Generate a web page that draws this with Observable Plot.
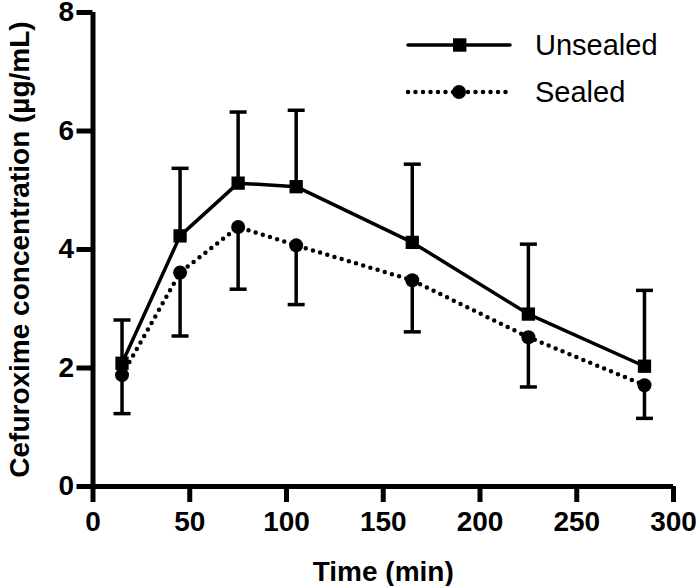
<!DOCTYPE html>
<html>
<head>
<meta charset="utf-8">
<script src="https://cdn.jsdelivr.net/npm/d3@7"></script>
<script src="https://cdn.jsdelivr.net/npm/@observablehq/plot@0.6"></script>
<style>
  html, body { margin: 0; padding: 0; background: #fff; }
  #wrap { position: relative; width: 700px; height: 586px; font-family: "Liberation Sans", Arial, sans-serif; }
  #wrap svg { overflow: visible; }
  #legend { position: absolute; left: 0; top: 0; pointer-events: none; }
  #wrap g[aria-label="x-axis tick"] path, #wrap g[aria-label="y-axis tick"] path,
  #wrap g[aria-label="x-axis tick"] line, #wrap g[aria-label="y-axis tick"] line { stroke-width: 5px !important; }
  #wrap g[aria-label="x-axis tick label"] text, #wrap g[aria-label="y-axis tick label"] text { font-size: 28px !important; font-weight: bold !important; }
  #wrap g[aria-label="x-axis label"] text, #wrap g[aria-label="y-axis label"] text { font-size: 28px !important; font-weight: bold !important; }
</style>
</head>
<body>
<div id="wrap"></div>
<script>
// ---- data ----
const times = [15, 45, 75, 105, 165, 225, 285];
const unsealedMean  = [2.08, 4.23, 5.12, 5.06, 4.12, 2.91, 2.03];
const unsealedUpper = [2.81, 5.37, 6.32, 6.35, 5.44, 4.09, 3.31];
const sealedMean    = [1.88, 3.61, 4.38, 4.07, 3.48, 2.52, 1.71];
const sealedLower   = [1.23, 2.54, 3.33, 3.07, 2.61, 1.68, 1.15];
const xTicks = [0, 50, 100, 150, 200, 250, 300];
const yTicks = [0, 2, 4, 6, 8];
const seriesNames = ["Unsealed", "Sealed"];
const xLabel = "Time (min)";
const yLabel = "Cefuroxime concentration (µg/mL)";

const unsealed = times.map((t, i) => ({t, mean: unsealedMean[i], err: unsealedUpper[i]}));
const sealed = times.map((t, i) => ({t, mean: sealedMean[i], err: sealedLower[i]}));

const capSymbol = { draw(ctx) { ctx.moveTo(-8.5, 0); ctx.lineTo(8.5, 0); } };
const font = "Liberation Sans, Arial, sans-serif";

const chart = Plot.plot({
  width: 700,
  height: 586,
  marginLeft: 92.5,
  marginRight: 27,
  marginTop: 12,
  marginBottom: 100,
  style: { fontFamily: font, background: "white", color: "black", overflow: "visible" },
  x: { domain: [0, 300] },
  y: { domain: [0, 8] },
  marks: [
    // error bars
    Plot.ruleX(unsealed, { x: "t", y1: "mean", y2: "err", stroke: "black", strokeWidth: 3.5 }),
    Plot.dot(unsealed, { x: "t", y: "err", symbol: capSymbol, fill: "none", stroke: "black", strokeWidth: 3.5 }),
    Plot.ruleX(sealed, { x: "t", y1: "mean", y2: "err", stroke: "black", strokeWidth: 3.5 }),
    Plot.dot(sealed, { x: "t", y: "err", symbol: capSymbol, fill: "none", stroke: "black", strokeWidth: 3.5 }),
    // lines
    Plot.line(sealed, { x: "t", y: "mean", stroke: "black", strokeWidth: 4.5, strokeDasharray: "0 7.5", strokeLinecap: "round" }),
    Plot.line(unsealed, { x: "t", y: "mean", stroke: "black", strokeWidth: 3.5 }),
    Plot.dot(sealed, { x: "t", y: "mean", symbol: "circle", r: 7, fill: "black" }),
    Plot.dot(unsealed, { x: "t", y: "mean", symbol: "square", r: 7.5, fill: "black" }),
    // axes
    Plot.ruleX([0], { stroke: "black", strokeWidth: 5 }),
    Plot.ruleY([0], { stroke: "black", strokeWidth: 5 }),
    Plot.axisX({ ticks: xTicks, tickSize: 16, tickPadding: 9, strokeWidth: 5, fontSize: 28, fontWeight: "bold",
      label: xLabel, labelAnchor: "center", labelOffset: 94, labelArrow: "none" }),
    Plot.axisY({ ticks: yTicks, tickSize: 16, tickPadding: 3, strokeWidth: 5, fontSize: 28, fontWeight: "bold",
      label: yLabel, labelAnchor: "center", labelOffset: 84, labelArrow: "none" })
  ]
});

document.getElementById("wrap").appendChild(chart);

// legend (outside Plot marks, as an overlay)
const leg = d3.create("svg").attr("id", "legend").attr("width", 700).attr("height", 586);
const rows = [
  { name: seriesNames[0], y: 45, dash: null, sym: "square" },
  { name: seriesNames[1], y: 92, dash: "0 7.5", sym: "circle" }
];
rows.forEach(r => {
  const g = leg.append("g");
  g.append("line").attr("x1", 408).attr("x2", 510).attr("y1", r.y).attr("y2", r.y)
    .attr("stroke", "black").attr("stroke-width", r.dash ? 4.5 : 3.5)
    .attr("stroke-dasharray", r.dash).attr("stroke-linecap", "round");
  if (r.sym === "square") g.append("rect").attr("x", 453).attr("y", r.y - 6.7).attr("width", 13.4).attr("height", 13.4).attr("fill", "black");
  else g.append("circle").attr("cx", 459).attr("cy", r.y).attr("r", 7).attr("fill", "black");
  g.append("text").attr("x", 535).attr("y", r.y + 10).attr("font-family", font).attr("font-size", 29).text(r.name);
});
document.getElementById("wrap").appendChild(leg.node());
</script>
</body>
</html>
